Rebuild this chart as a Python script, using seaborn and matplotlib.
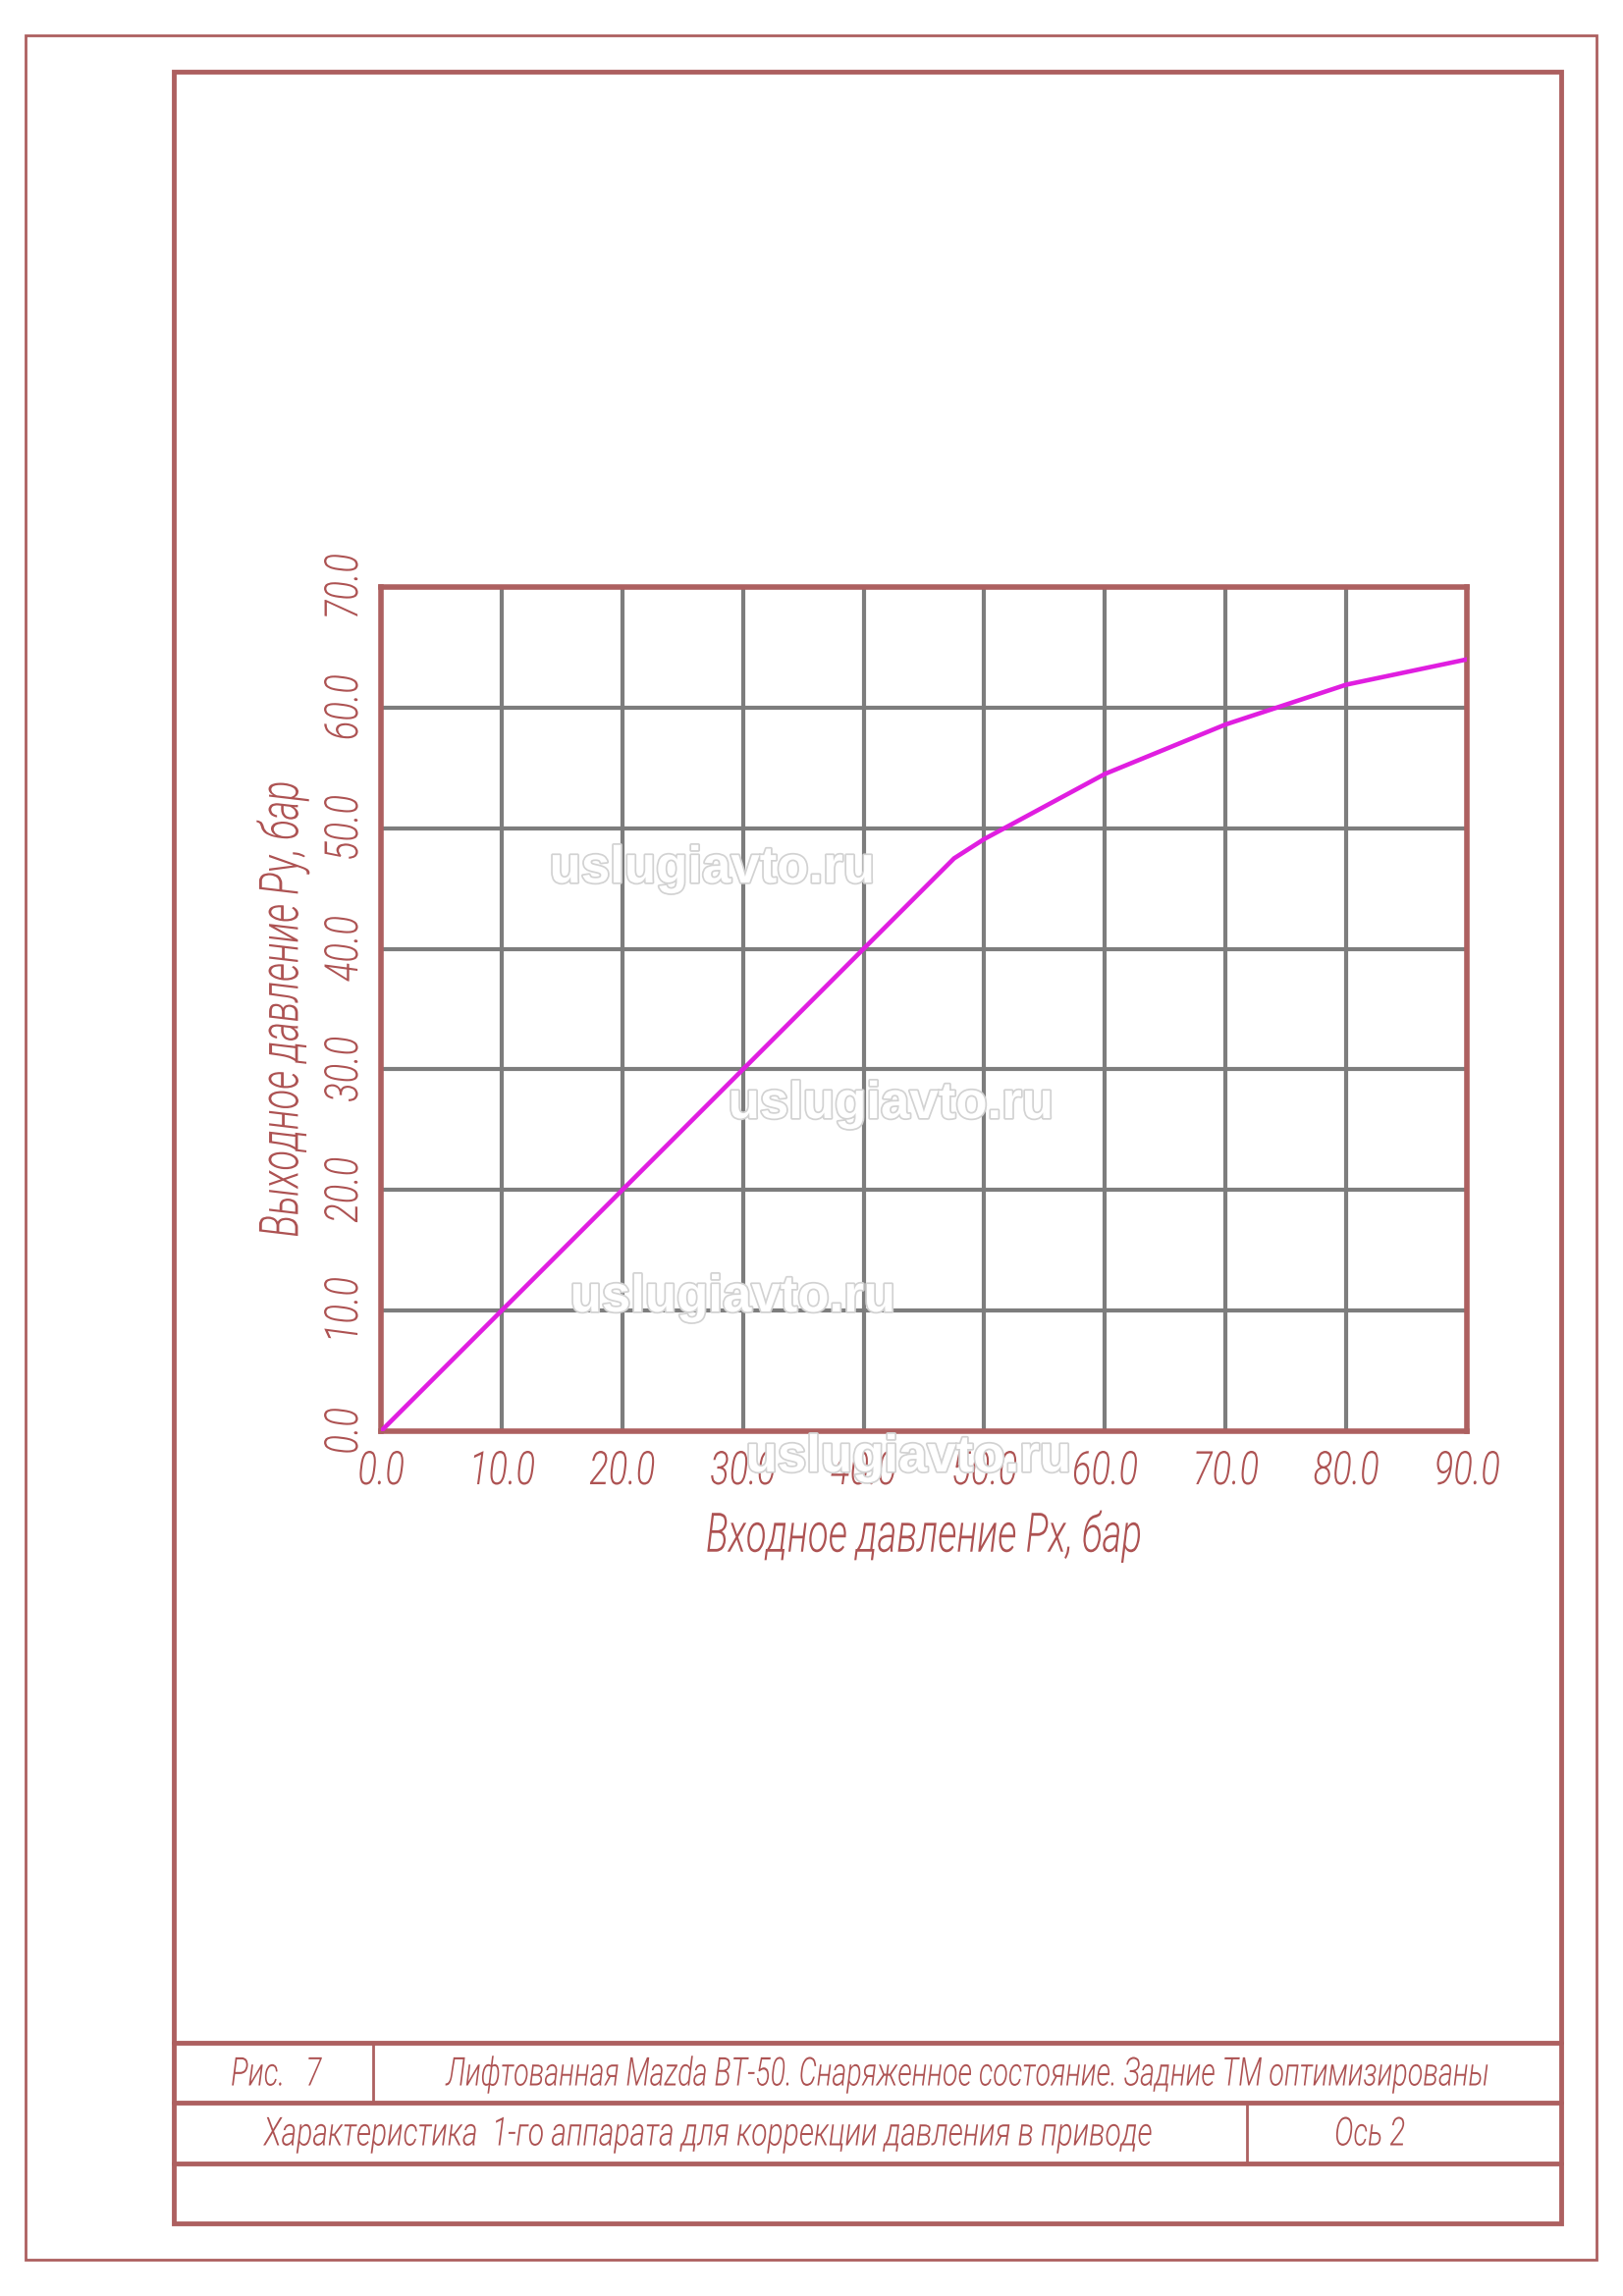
import matplotlib
matplotlib.use('Agg')
import matplotlib.pyplot as plt
import matplotlib.patheffects as pe
from matplotlib.patches import Rectangle
from matplotlib.lines import Line2D
from matplotlib.text import Text
from matplotlib.transforms import Affine2D, Bbox
from matplotlib.ticker import MultipleLocator, FixedLocator
import seaborn as sns
import pandas as pd

# данные
px = [0, 10, 20, 30, 40, 47.5, 50, 60, 70, 80, 90]
py = [0, 10, 20, 30, 40, 47.5, 49.1, 54.5, 58.6, 61.9, 64.0]
x_ticks = [0, 10, 20, 30, 40, 50, 60, 70, 80, 90]
y_ticks = [0, 10, 20, 30, 40, 50, 60, 70]
x_labels = ['0.0', '10.0', '20.0', '30.0', '40.0', '50.0', '60.0', '70.0', '80.0', '90.0']
y_labels = ['0.0', '10.0', '20.0', '30.0', '40.0', '50.0', '60.0', '70.0']

x_title = 'Входное давление Px, бар'
y_title = 'Выходное давление Py, бар'
fig_no = 'Рис.   7'
caption1 = 'Лифтованная Mazda BT-50. Снаряженное состояние. Задние ТМ оптимизированы'
caption2 = 'Характеристика  1-го аппарата для коррекции давления в приводе'
axle = 'Ось 2'
watermark = 'uslugiavto.ru'

df = pd.DataFrame({'px': px, 'py': py})

sns.set_style('white')
plt.rcParams['font.family'] = ['Roboto', 'DejaVu Sans']
plt.rcParams['font.style'] = 'italic'

W, H = 1653, 2339
frame_c = '#ad6060'
text_c = '#ad5252'
grid_c = '#7d7d7d'
line_c = '#e01ee0'


class Squeeze(pe.AbstractPathEffect):
    # узкий "чертёжный" шрифт: сжимаем глифы вдоль строки
    def __init__(self, sx=0.62):
        super().__init__()
        self.sx = sx

    def draw_path(self, renderer, gc, tpath, affine, rgbFace=None):
        ext = tpath.get_extents()
        cx = (ext.x0 + ext.x1) / 2
        t = Affine2D().translate(-cx, 0).scale(self.sx, 1).translate(cx, 0) + affine
        renderer.draw_path(gc, tpath, t, rgbFace)


class SqText(Text):
    # текст штампа, рамка тоже сжата
    def __init__(self, *args, sx=0.7, **kw):
        super().__init__(*args, path_effects=[Squeeze(sx)], **kw)
        self.sx = sx

    def get_window_extent(self, renderer=None, dpi=None):
        bb = super().get_window_extent(renderer, dpi)
        cx = (bb.x0 + bb.x1) / 2
        hw = (bb.x1 - bb.x0) / 2 * self.sx
        return Bbox([[cx - hw, bb.y0], [cx + hw, bb.y1]])


def fx(p):
    return p / W


def fy(p):
    return 1 - p / H


fig = plt.figure(figsize=(W / 100, H / 100), dpi=100)
fig.patch.set_facecolor('white')

# поле графика
ax = fig.add_axes([fx(388), fy(1458), (1494 - 388) / W, (1458 - 598) / H])
sns.lineplot(data=df, x='px', y='py', ax=ax, color=line_c, linewidth=3.3, zorder=5)
ax.set_xlim(0, 90)
ax.set_ylim(0, 70)
ax.xaxis.set_major_locator(FixedLocator(x_ticks))
ax.yaxis.set_major_locator(FixedLocator(y_ticks))
ax.xaxis.set_minor_locator(MultipleLocator(5))
ax.yaxis.set_minor_locator(MultipleLocator(5))
ax.tick_params(axis='both', which='both', direction='out', length=15, width=3,
               color=frame_c, labelcolor=text_c, labelsize=34)
ax.tick_params(axis='x', pad=-2)
ax.tick_params(axis='y', pad=-5)
ax.set_xticklabels(x_labels, fontweight=300, path_effects=[Squeeze(0.77)])
ax.set_yticklabels(y_labels, fontweight=300, rotation=90, va='center',
                   path_effects=[Squeeze(0.77)])
ax.grid(True, which='major', color=grid_c, linewidth=3)
ax.set_axisbelow(True)
for s in ax.spines.values():
    s.set_color(frame_c)
    s.set_linewidth(4)
ax.set_xlabel(x_title, fontsize=40, fontweight=300, color=text_c, labelpad=12,
              path_effects=[Squeeze(0.69)])
ax.set_ylabel(y_title, fontsize=40, fontweight=300, color=text_c, labelpad=9.5,
              path_effects=[Squeeze(0.68)])

# водяные знаки
for wx, wy in [(725, 885), (907, 1125), (746, 1322), (925, 1485)]:
    fig.text(fx(wx), fy(wy), watermark, color='white', fontsize=38, fontweight='bold',
             family=['Liberation Sans', 'DejaVu Sans'], style='normal',
             ha='center', va='center', zorder=10,
             path_effects=[pe.withStroke(linewidth=2.5, foreground='#d2d2d2')])

# рамки
fig.add_artist(Rectangle((fx(26), fy(2302)), (1626 - 26) / W, (2302 - 36) / H,
                         transform=fig.transFigure, fill=False, edgecolor=frame_c, linewidth=2))
fig.add_artist(Rectangle((fx(177), fy(2265)), (1590 - 177) / W, (2265 - 73) / H,
                         transform=fig.transFigure, fill=False, edgecolor=frame_c, linewidth=3.5))
for yy in [2081, 2142, 2204]:
    fig.add_artist(Line2D([fx(177), fx(1590)], [fy(yy), fy(yy)], transform=fig.transFigure,
                          color=frame_c, linewidth=3.5))
fig.add_artist(Line2D([fx(380), fx(380)], [fy(2081), fy(2142)], transform=fig.transFigure,
                      color=frame_c, linewidth=2))
fig.add_artist(Line2D([fx(1270), fx(1270)], [fy(2142), fy(2204)], transform=fig.transFigure,
                      color=frame_c, linewidth=2))

# штамп
stamp = [(281, 2113, fig_no, 0.73), (985, 2113, caption1, 0.713),
         (721, 2174, caption2, 0.746), (1395, 2174, axle, 0.73)]
for sx_, sy_, s, k in stamp:
    fig.add_artist(SqText(fx(sx_), fy(sy_), s, sx=k, fontsize=29, fontweight=300, color=text_c,
                          ha='center', va='center', transform=fig.transFigure))

fig.savefig('out.png', dpi=100, facecolor='white')
